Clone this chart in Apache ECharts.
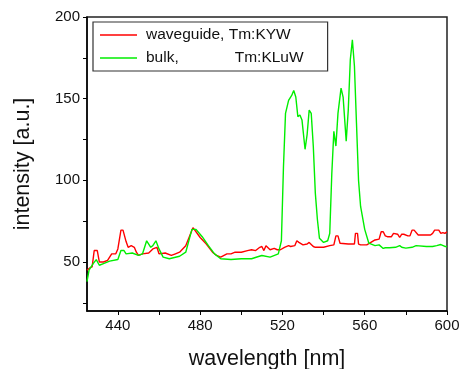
<!DOCTYPE html>
<html><head><meta charset="utf-8">
<script src="https://cdn.jsdelivr.net/npm/echarts@6/dist/echarts.min.js"></script>
<style>html,body{margin:0;padding:0;background:#fff}#c{width:459px;height:369px}</style>
</head><body><div id="c"></div>
<script>
var xTickValues = [440,460,480,500,520,540,560,580,600];
var xLabelValues = [440,480,520,560,600];
var yTickValues = [25,50,75,100,125,150,175,200];
var yLabelValues = [50,100,150,200];
var seriesNames = ['waveguide, Tm:KYW','bulk,             Tm:KLuW'];

var waveguideX = [425,426.5,427.5,428.5,430,431,433,435,437,439,440,441.5,442.5,444,445,446.5,448,449,450,452,455,457,459,460,463,466,468,470,473,476.5,478,480,483,486,488,490,493,495,497,500,503,505,507,509,510,511,512,514,516,517.5,519,521,523,524,526,527,528,530,532,533,535,536,538,540,543,545,546,547,548,552,555,555.5,556.5,557,558,561,563,565,567,568,569,570,571,573,574,576,577,578,579,581,582,583,584,586,590,592,593,594,596,597,598,599,599.5,600];
var waveguideY = [45,46.5,47,57,57,50,50,51,55,55,58,69.5,69.5,62.5,59,60,59,56,54,55,55.5,58,59,55,55.5,54,55,56,60,71,68.5,65,61,56,54,53,55,55,56,56,57,57.5,57,59,59.5,57,60,57.5,58.3,57.5,57.5,59,60,59.5,60,63,62,60.5,61,62,59.5,59,59,59,60,60.5,66,66,61.5,61,61,67.5,67.5,61,60.5,60.5,62,63.5,64,68.5,68.5,66,65.5,65.5,67.5,67,65,67,67,66,66,69.5,69.5,66.5,66.5,66.5,67.5,69.5,69.5,67.5,68,67.5,68,68.5,75,75];

var bulkX = [425,426,428,429.5,431,433,436,440,441.5,443,444,447,450,452,454,456,457,458.5,460,462,465,470,473,476,478,481,484,487,490,495,500,505,508,510,514,518,519.5,520.5,521.5,523,524.5,525.5,526.5,527.5,528.5,529.5,531,532,533,534,535,536,537,538,540,542,543,544,545,546,547,548.5,549.5,551,552,553,554,555,556,557,558,560,562,565,567,569,570,572,575,577,578,580,583,585,590,593,595,597,599,600];
var bulkY = [38,45,49,51.5,48,49,50.5,51.5,57,57,55,55.5,54,55,63,59,60,63,58,53,52,53.5,56,70,70,65.5,60,55,52,51.5,52,52,53.2,54,53,55,63,108,141,149,152,155,151,139,140,137,119,128,143,141,121,92,76,64.5,62,63,67.5,104,130,121,141,156.5,151,124,143,174,186,170,135,100,84,70,61.5,60,60.5,58.3,58.7,58.7,59,60,59,58.5,59,60,59.5,59.5,60,60.7,59.5,59.5,64];

function zip(a,b){return a.map(function(v,i){return [v,b[i]];});}

var chart = echarts.init(document.getElementById('c'));
var font = 'Arial, "Liberation Sans", sans-serif';
chart.setOption({
  animation:false,
  grid:{left:87,right:12,top:17,bottom:58,outerBoundsMode:'none',containLabel:false,show:true,borderColor:'#222',borderWidth:1.5,backgroundColor:'transparent'},
  legend:{
    orient:'vertical', left:93, top:22,
    padding:[5,24,5,7], itemGap:7, itemWidth:37, itemHeight:1.6, icon:'rect',
    borderColor:'#333', borderWidth:1.2, backgroundColor:'#fff',
    textStyle:{fontFamily:font,fontSize:15.5,color:'#111',lineHeight:14,padding:[0,0,0,4]},
    data:seriesNames
  },
  xAxis:{
    type:'value', min:425, max:600,
    name:'wavelength [nm]', nameLocation:'middle', nameGap:37,
    nameTextStyle:{fontFamily:font,fontSize:21.5,color:'#111'},
    axisLine:{onZero:false,lineStyle:{color:'#000',width:1.5}},
    axisTick:{show:true,length:4,inside:false,customValues:xTickValues,lineStyle:{color:'#000',width:1}},
    axisLabel:{customValues:xLabelValues,fontFamily:font,fontSize:15,color:'#111',margin:7},
    splitLine:{show:false}
  },
  yAxis:{
    type:'value', min:20, max:200,
    name:'intensity [a.u.]', nameLocation:'middle', nameGap:53,
    nameTextStyle:{fontFamily:font,fontSize:21.5,color:'#111'},
    axisLine:{onZero:false,lineStyle:{color:'#000',width:1.5}},
    axisTick:{show:true,length:4,inside:false,customValues:yTickValues,lineStyle:{color:'#000',width:1}},
    axisLabel:{customValues:yLabelValues,fontFamily:font,fontSize:15,color:'#111',margin:7},
    splitLine:{show:false}
  },
  series:[
    {name:seriesNames[0],type:'line',symbol:'none',data:zip(waveguideX,waveguideY),lineStyle:{color:'#ff0000',width:1.4},itemStyle:{color:'#ff0000'},z:2},
    {name:seriesNames[1],type:'line',symbol:'none',data:zip(bulkX,bulkY),lineStyle:{color:'#00ee00',width:1.4},itemStyle:{color:'#00ee00'},z:3}
  ]
});
</script></body></html>
